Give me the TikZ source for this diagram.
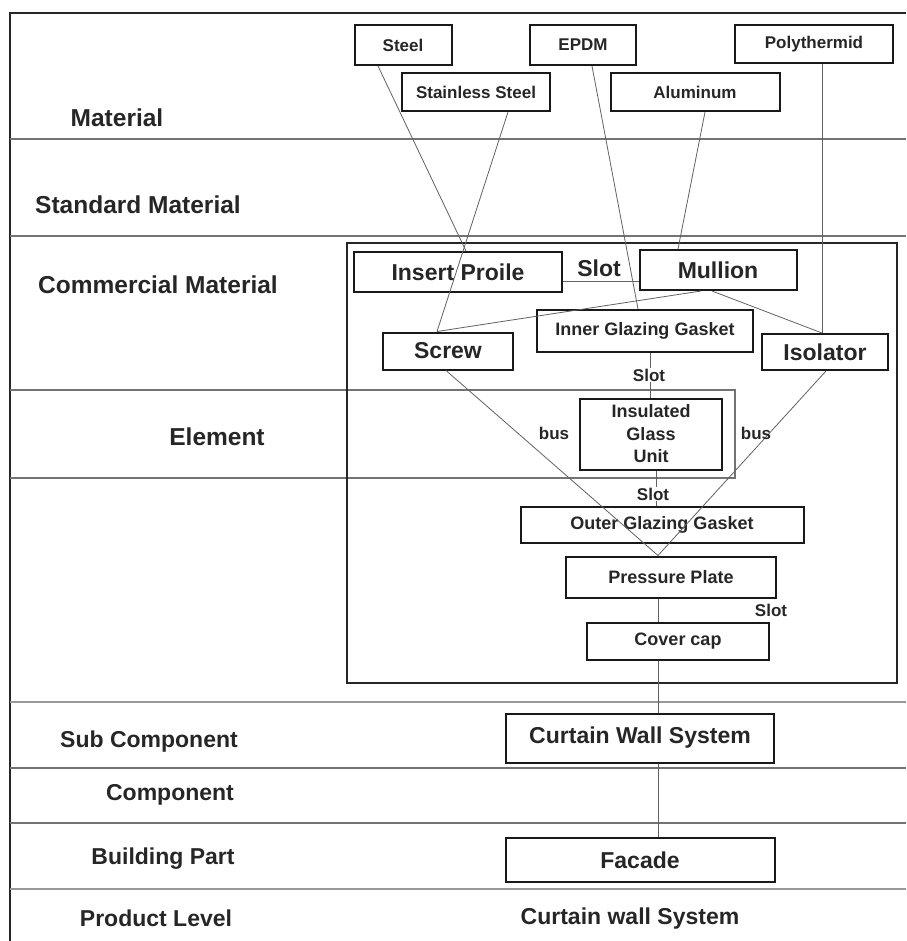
\documentclass[tikz,border=0pt]{standalone}
\usepackage{fontspec}
\setmainfont{Liberation Sans}
\begin{document}
\begin{tikzpicture}[x=1pt,y=-1pt,
  band/.style={draw=black!55, line width=1.2pt},
  bandthick/.style={draw=black!40, line width=2.6pt},
  frame/.style={draw=black!85, line width=2pt},
  box/.style={draw=black!90, line width=2pt, inner sep=0pt, align=center, text=black!85, font=\bfseries\fontsize{18}{22.5}\selectfont},
  smallbox/.style={box, font=\bfseries\fontsize{17}{20}\selectfont},
  bigbox/.style={box, font=\bfseries\fontsize{23}{26}\selectfont},
  link/.style={draw=black!62, line width=0.8pt},
  lvl/.style={text=black!85, font=\bfseries\fontsize{23}{26}\selectfont, inner sep=0pt},
  toplvl/.style={lvl, font=\bfseries\fontsize{24.5}{28}\selectfont},
  lbl/.style={text=black!85, font=\bfseries\fontsize{17}{20}\selectfont, inner sep=1pt},
  biglbl/.style={text=black!85, font=\bfseries\fontsize{23}{26}\selectfont, inner sep=1pt}]
\useasboundingbox (0,0) rectangle (906,941);

% level bands
\draw[frame] (10,941) -- (10,13) -- (906,13);
\draw[band] (10,139) -- (906,139);
\draw[band] (10,236) -- (906,236);
\draw[band] (10,390) -- (735,390) -- (735,478) -- (10,478);
\draw[bandthick] (10,702) -- (906,702);
\draw[band] (10,768) -- (906,768);
\draw[band] (10,823) -- (906,823);
\draw[bandthick] (10,889) -- (906,889);
\draw[frame] (347,243) rectangle (897,683);

% level labels
\node[toplvl] (lmat) at (117,118) {Material};
\node[toplvl] (lstd) at (138,205) {Standard Material};
\node[toplvl] (lcom) at (158,285) {Commercial Material};
\node[toplvl] (lele) at (217,437) {Element};
\node[lvl] (lsub) at (149,742) {Sub Component};
\node[lvl] (lcmp) at (170,795) {Component};
\node[lvl] (lbld) at (163,859) {Building Part};
\node[lvl] (lprd) at (156,918) {Product Level};
\node[lvl] (prod) at (630,919) {Curtain wall System};

% material boxes
\node[smallbox, minimum width=97pt, minimum height=40pt] (steel) at (403,45) {Steel};
\node[smallbox, minimum width=148pt, minimum height=38pt] (stainless) at (476,92) {Stainless Steel};
\node[smallbox, minimum width=106pt, minimum height=40pt] (epdm) at (583,45) {EPDM};
\node[smallbox, minimum width=169pt, minimum height=38pt] (alu) at (695,92) {Aluminum};
\node[smallbox, minimum width=158pt, minimum height=38pt] (poly) at (814,44) {Polythermid};

% commercial material / element boxes
\node[bigbox, minimum width=208pt, minimum height=40pt] (insert) at (458,272) {Insert Proile};
\node[bigbox, minimum width=157pt, minimum height=40pt] (mullion) at (718,270) {Mullion};
\node[box, minimum width=216pt, minimum height=42pt] (igg) at (645,331) {Inner Glazing Gasket};
\node[bigbox, minimum width=130pt, minimum height=37pt] (screw) at (448,351) {Screw};
\node[bigbox, minimum width=126pt, minimum height=36pt] (isolator) at (825,352) {Isolator};
\node[box, minimum width=142pt, minimum height=71pt] (igu) at (651,434) {Insulated\\Glass\\Unit};
\node[box, minimum width=283pt, minimum height=36pt] (ogg) at (662,525) {Outer Glazing Gasket};
\node[box, minimum width=210pt, minimum height=41pt] (pp) at (671,577) {Pressure Plate};
\node[box, minimum width=182pt, minimum height=37pt] (cover) at (678,641) {Cover cap};
\node[bigbox, minimum width=268pt, minimum height=49pt] (cws) at (640,738) {Curtain Wall System};
\node[bigbox, minimum width=269pt, minimum height=44pt] (facade) at (640,860) {Facade};

% connectors
\draw[link] (378,0 |- steel.south) -- (466,0 |- insert.north);
\draw[link] (508,0 |- stainless.south) -- (437,0 |- screw.north);
\draw[link] (592,0 |- epdm.south) -- (638,0 |- igg.north);
\draw[link] (705,0 |- alu.south) -- (678,0 |- mullion.north);
\draw[link] (822,0 |- poly.south) -- (822,0 |- isolator.north);
\draw[link] (insert.east |- 0,281) -- (mullion.west |- 0,281);
\draw[link] (701,0 |- mullion.south) -- (437,0 |- screw.north);
\draw[link] (712,0 |- mullion.south) -- (822,0 |- isolator.north);
\draw[link] (650,0 |- igg.south) -- (650,0 |- igu.north);
\draw[link] (656,0 |- igu.south) -- (656,0 |- ogg.north);
\draw[link] (446,0 |- screw.south) -- (658,0 |- pp.north);
\draw[link] (826,0 |- isolator.south) -- (658,0 |- pp.north);
\draw[link] (658,0 |- pp.south) -- (658,0 |- cover.north);
\draw[link] (658,0 |- cover.south) -- (658,0 |- cws.north);
\draw[link] (658,0 |- cws.south) -- (658,0 |- facade.north);

% connector labels
\node[biglbl] (slot1) at (599,268) {Slot};
\node[lbl, fill=white, inner sep=0.5pt] (slot2) at (649,375) {Slot};
\node[lbl, fill=white, inner sep=0.5pt] (slot3) at (653,494) {Slot};
\node[lbl] (slot4) at (771,610) {Slot};
\node[lbl] (bus1) at (554,433) {bus};
\node[lbl] (bus2) at (756,433) {bus};
\end{tikzpicture}
\end{document}
